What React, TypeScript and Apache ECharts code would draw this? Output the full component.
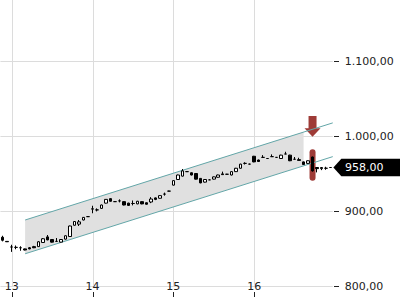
import React, { useEffect, useRef } from "react";
import * as echarts from "echarts";

// [open, close, low, high]
const candles: number[][] = [
  [865, 861, 859.5, 867], [859.5, 859, 859, 859.5], [852, 852, 845.5, 855], [851.5, 851.5, 849, 854],
  [851, 851, 847, 853], [849.5, 848, 847.5, 850], [851, 849.5, 849, 852], [852.5, 851, 850.5, 853.5],
  [852.5, 859, 852, 860], [858, 863, 857.5, 864], [865.5, 861.5, 861, 868], [862, 858.5, 858, 862.5],
  [859.5, 859.5, 859.5, 864], [858.5, 862, 858, 862.5], [862.5, 867, 862, 867.5], [866, 880, 865.5, 880.5],
  [881, 886, 880.5, 886.5], [882.5, 885.5, 880, 888], [888, 891.5, 887.5, 892], [892.5, 892.5, 892, 893],
  [902.5, 903, 897, 907], [901.5, 901.5, 899.5, 903.5], [903.5, 908, 903, 908.5], [910.5, 915.5, 910, 916],
  [916.5, 913, 912.5, 917], [912.5, 912.5, 912.5, 913], [913.5, 913.5, 911.5, 915.5], [912.5, 908, 907.5, 913],
  [910.5, 907.5, 907, 911], [910, 910, 907.5, 914], [909.5, 913, 909, 913.5], [912.5, 909.5, 909, 913],
  [911, 909, 908.5, 911.5], [912, 916, 910.5, 918.5], [917.5, 915.5, 914.5, 918], [917, 920.5, 916.5, 921],
  [922.5, 922.5, 920.5, 924.5], [926.5, 926.5, 926.5, 927], [934.5, 940.5, 934, 941], [942, 948, 941.5, 948.5],
  [946.5, 953.5, 946, 956], [952.5, 952.5, 952.5, 953], [951, 948, 947.5, 951.5], [950, 942.5, 942, 950.5],
  [943.5, 937.5, 937, 944], [938.5, 942, 938, 942.5], [941.5, 941.5, 941.5, 942], [942.5, 945.5, 942, 946],
  [945, 948, 944.5, 948.5], [949.5, 948.5, 948.5, 952.5], [949, 949, 949, 949.5], [948, 952.5, 947.5, 953],
  [952.5, 957, 952, 957.5], [957, 962.5, 956.5, 963], [963.5, 963.5, 962, 965], [962.5, 962.5, 962.5, 963],
  [973, 965.5, 965, 973.5], [968, 966, 965.5, 968.5], [971.5, 971.5, 971.5, 974.5], [970, 970, 970, 970.5],
  [972.5, 972.5, 972.5, 975.5], [971.5, 971.5, 971.5, 972], [970, 974.5, 969.5, 975], [976, 976, 976, 979],
  [974.5, 967, 966.5, 975], [969, 969, 969, 972], [968.5, 967.5, 967.5, 971], [965.5, 962, 961.5, 966],
  [963.5, 967, 963, 967.5], [972, 953.5, 952.5, 972.5], [958, 956.5, 951.5, 958.5], [956.5, 958, 954.5, 958.5],
  [957, 957, 955, 959], [958, 958, 958, 958.5],
];

const dayLabels = ["13", "14", "15", "16"];
const dayStartIndex = [2, 20, 38, 56];
const yTicks = [800, 900, 1000, 1100, 1200];

// channel lines: [candle index, value]
const upperLine = [[5, 888], [73.5, 1017.5]];
const lowerLine = [[5, 843], [73.5, 972.5]];
const bandPolygon = [[5, 888], [67, 1005.2], [67, 960.2], [5, 843]];

const signalIndex = 69;
const arrowTip = [signalIndex, 999];
const capsuleCenter = [signalIndex, 961.3];
const lastPrice = 958;

const categories = candles.map((_, i) => {
  const k = dayStartIndex.indexOf(i);
  return k >= 0 ? dayLabels[k] : String(i);
});

function fmt(v: number): string {
  const s = v.toFixed(2);
  const [a, b] = s.split(".");
  return a.replace(/\B(?=(\d{3})+(?!\d))/g, ".") + "," + b;
}

const FONT = "DejaVu Sans";
const RED = "#9e3b37";
const TEAL = "#63a6a8";
const TICK = "#222222";

export default function App() {
  const ref = useRef<HTMLDivElement>(null);
  useEffect(() => {
    if (!ref.current) return;
    const chart = echarts.init(ref.current, undefined, { renderer: "svg" });
    const n = candles.length;
    const option: any = {
      animation: false,
      backgroundColor: "#ffffff",
      grid: {
        left: 0.45,
        width: 332.3,
        top: -14,
        height: 300,
        containLabel: false,
        outerBoundsMode: "none",
      },
      xAxis: [
        {
          type: "category",
          data: categories,
          boundaryGap: true,
          offset: 6,
          axisLine: { show: false, onZero: false },
          axisTick: { show: false },
          axisLabel: {
            inside: true,
            margin: 0,
            interval: (idx: number) => dayStartIndex.includes(idx),
            color: "#222",
            fontSize: 11,
            fontFamily: FONT,
          },
          splitLine: { show: false },
        },
        { type: "value", min: -0.5, max: n - 0.5, show: false, axisLine: { onZero: false } },
      ],
      yAxis: {
        type: "value",
        position: "right",
        min: yTicks[0],
        max: yTicks[yTicks.length - 1],
        interval: 100,
        axisLine: { show: false, onZero: false },
        axisTick: { show: false },
        axisLabel: {
          margin: 12,
          color: "#222",
          fontSize: 11,
          fontFamily: FONT,
          showMaxLabel: false,
          formatter: (v: number) => fmt(v),
        },
        splitLine: { show: true, lineStyle: { color: "#dcdcdc", width: 1 } },
      },
      series: [
        {
          type: "custom",
          name: "vgrid",
          xAxisIndex: 1,
          z: 1,
          silent: true,
          data: dayStartIndex.map((i) => [i, yTicks[0]]),
          renderItem: (params: any, api: any) => {
            const x = Math.round(api.coord([api.value(0), api.value(1)])[0]) + 0.5;
            const cs = params.coordSys;
            return {
              type: "line",
              shape: { x1: x, y1: cs.y, x2: x, y2: cs.y + cs.height },
              style: { stroke: "#dcdcdc", lineWidth: 1 },
            };
          },
        },
        {
          type: "custom",
          name: "band",
          xAxisIndex: 1,
          z: 2,
          silent: true,
          data: [[0, 0]],
          renderItem: (params: any, api: any) => ({
            type: "polygon",
            shape: { points: bandPolygon.map((p) => api.coord(p)) },
            style: { fill: "#e0e0e0" },
          }),
        },
        {
          type: "custom",
          name: "signal",
          xAxisIndex: 1,
          z: 3,
          silent: true,
          data: [[capsuleCenter[0], capsuleCenter[1], arrowTip[1]]],
          renderItem: (params: any, api: any) => {
            const c = api.coord([api.value(0), api.value(1)]);
            const t = api.coord([api.value(0), api.value(2)]);
            const cx = t[0];
            const ty = t[1];
            return {
              type: "group",
              children: [
                {
                  type: "rect",
                  shape: { x: c[0] - 3, y: c[1] - 15.7, width: 6, height: 31.4, r: 3 },
                  style: { fill: RED },
                },
                {
                  type: "polygon",
                  shape: {
                    points: [
                      [cx - 4, ty - 20.7],
                      [cx + 4, ty - 20.7],
                      [cx + 4, ty - 8.5],
                      [cx + 8, ty - 8.5],
                      [cx, ty],
                      [cx - 8, ty - 8.5],
                      [cx - 4, ty - 8.5],
                    ],
                  },
                  style: { fill: RED },
                },
              ],
            };
          },
        },
        {
          type: "line",
          name: "upper",
          xAxisIndex: 1,
          z: 4,
          silent: true,
          symbol: "none",
          data: upperLine,
          lineStyle: { color: TEAL, width: 1 },
        },
        {
          type: "line",
          name: "lower",
          xAxisIndex: 1,
          z: 4,
          silent: true,
          symbol: "none",
          data: lowerLine,
          lineStyle: { color: TEAL, width: 1 },
        },
        {
          type: "candlestick",
          name: "price",
          xAxisIndex: 0,
          z: 5,
          barWidth: 3,
          data: candles,
          itemStyle: {
            color: "#ffffff",
            color0: "#000000",
            borderColor: "#000000",
            borderColor0: "#000000",
            borderWidth: 1,
          },
        },
        {
          type: "custom",
          name: "overlay",
          xAxisIndex: 1,
          z: 6,
          clip: false,
          silent: true,
          data: [[n - 0.5, lastPrice]],
          renderItem: (params: any, api: any) => {
            const p = api.coord([api.value(0), api.value(1)]);
            const x0 = p[0] + 0.6;
            const y = p[1];
            const cs = params.coordSys;
            const bottom = cs.y + cs.height;
            const yTickEls = yTicks.slice(0, yTicks.length - 1).map((v) => {
              const q = api.coord([n - 0.5, v]);
              return {
                type: "rect",
                shape: { x: Math.round(q[0]) + 1, y: Math.round(q[1]), width: 5, height: 1 },
                style: { fill: TICK },
              };
            });
            const xTickEls = dayStartIndex.map((i) => {
              const q = api.coord([i, yTicks[0]]);
              return {
                type: "rect",
                shape: { x: Math.round(q[0]), y: bottom + 6, width: 1, height: 5 },
                style: { fill: TICK },
              };
            });
            return {
              type: "group",
              children: [
                ...yTickEls,
                ...xTickEls,
                {
                  type: "polygon",
                  shape: {
                    points: [
                      [x0, y],
                      [x0 + 8, y - 8.75],
                      [400, y - 8.75],
                      [400, y + 8.75],
                      [x0 + 8, y + 8.75],
                    ],
                  },
                  style: { fill: "#000" },
                },
                {
                  type: "text",
                  style: {
                    x: x0 + 11.7,
                    y: y,
                    text: fmt(api.value(1)),
                    fill: "#fff",
                    fontSize: 11,
                    fontFamily: FONT,
                    verticalAlign: "middle",
                    align: "left",
                  },
                },
              ],
            };
          },
        },
      ],
    };
    chart.setOption(option);
    return () => chart.dispose();
  }, []);
  return (
    <div
      ref={ref}
      style={{ position: "fixed", left: 0, top: 0, width: 400, height: 300, background: "#fff" }}
    />
  );
}
